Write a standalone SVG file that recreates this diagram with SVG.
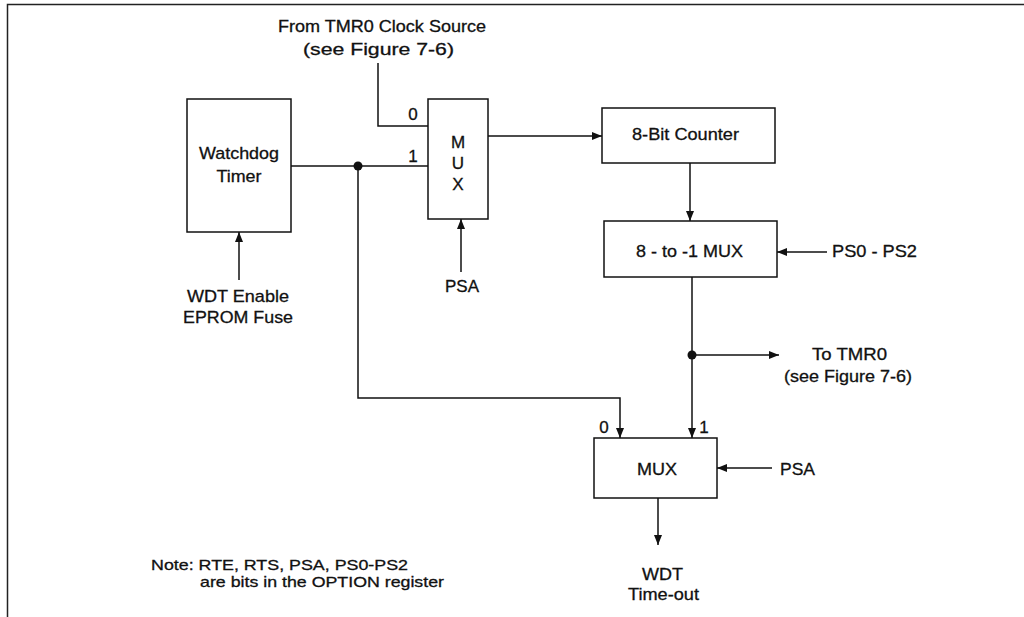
<svg xmlns="http://www.w3.org/2000/svg" width="1024" height="617" viewBox="0 0 1024 617">
<style>
  .box { fill: #fff; stroke: #111; stroke-width: 1.5; }
  .wire { fill: none; stroke: #111; stroke-width: 1.5; }
  .arr { fill: none; stroke: #111; stroke-width: 1.5; marker-end: url(#ah); }
  .dot { fill: #111; }
  text { font-family: "Liberation Sans", Arial, sans-serif; font-size: 17px; fill: #111; stroke: #111; stroke-width: 0.3; }
  .c { text-anchor: middle; }
  .note { font-size: 15px; }
  .frame { fill: none; stroke: #222; stroke-width: 1.5; }
</style>
<defs>
  <marker id="ah" markerUnits="userSpaceOnUse" markerWidth="10" markerHeight="8" refX="10" refY="4" orient="auto">
    <path d="M0,0 L10,4 L0,8 z" fill="#111"/>
  </marker>
</defs>
<rect width="1024" height="617" fill="#fff"/>
<g id="frame">
  <polyline class="frame" points="7.5,617 7.5,4.5 1024,4.5"/>
</g>

<g id="connectors">
  <polyline class="wire" points="378,63 378,126 428,126"/>
  <line class="wire" x1="291" y1="166" x2="428" y2="166"/>
  <polyline class="arr" points="358,166 358,398 620,398 620,438"/>
  <line class="arr" x1="239" y1="280" x2="239" y2="232"/>
  <line class="arr" x1="461" y1="272" x2="461" y2="219"/>
  <line class="arr" x1="488" y1="136" x2="602" y2="136"/>
  <line class="arr" x1="690" y1="163" x2="690" y2="221"/>
  <line class="arr" x1="827" y1="252" x2="777" y2="252"/>
  <line class="arr" x1="692" y1="277" x2="692" y2="438"/>
  <line class="arr" x1="692" y1="355" x2="779" y2="355"/>
  <line class="arr" x1="772" y1="468" x2="717" y2="468"/>
  <line class="arr" x1="658" y1="498" x2="658" y2="545"/>
  <circle class="dot" cx="358" cy="166" r="4.5"/>
  <circle class="dot" cx="692" cy="355" r="4.5"/>
</g>

<g id="watchdog">
  <rect class="box" x="187" y="99" width="104" height="133"/>
  <text class="c" x="239" y="159" textLength="80" lengthAdjust="spacingAndGlyphs">Watchdog</text>
  <text class="c" x="239" y="182" textLength="45" lengthAdjust="spacingAndGlyphs">Timer</text>
</g>

<g id="mux1">
  <rect class="box" x="428" y="99" width="60" height="120"/>
  <text class="c" x="458" y="148">M</text>
  <text class="c" x="458" y="169">U</text>
  <text class="c" x="458" y="190">X</text>
  <text class="c" x="413" y="120">0</text>
  <text class="c" x="413" y="162">1</text>
</g>

<g id="counter">
  <rect class="box" x="602" y="108" width="173" height="55"/>
  <text x="632" y="140" textLength="107" lengthAdjust="spacingAndGlyphs">8-Bit Counter</text>
</g>

<g id="mux8">
  <rect class="box" x="604" y="221" width="173" height="56"/>
  <text x="636" y="257" textLength="107" lengthAdjust="spacingAndGlyphs">8 - to -1 MUX</text>
</g>

<g id="mux2">
  <rect class="box" x="594" y="438" width="123" height="60"/>
  <text class="c" x="657" y="475" textLength="40" lengthAdjust="spacingAndGlyphs">MUX</text>
  <text class="c" x="604" y="433">0</text>
  <text class="c" x="704" y="433">1</text>
</g>

<g id="labels">
  <text x="278" y="32" textLength="208" lengthAdjust="spacingAndGlyphs">From TMR0 Clock Source</text>
  <text x="303" y="55" textLength="151" lengthAdjust="spacingAndGlyphs">(see Figure 7-6)</text>
  <text x="187" y="302" textLength="102" lengthAdjust="spacingAndGlyphs">WDT Enable</text>
  <text x="183" y="323" textLength="110" lengthAdjust="spacingAndGlyphs">EPROM Fuse</text>
  <text x="445" y="292" textLength="34" lengthAdjust="spacingAndGlyphs">PSA</text>
  <text x="832" y="257" textLength="85" lengthAdjust="spacingAndGlyphs">PS0 - PS2</text>
  <text x="812" y="360" textLength="75" lengthAdjust="spacingAndGlyphs">To TMR0</text>
  <text x="784" y="382" textLength="128" lengthAdjust="spacingAndGlyphs">(see Figure 7-6)</text>
  <text x="780" y="475" textLength="35" lengthAdjust="spacingAndGlyphs">PSA</text>
  <text x="642" y="580" textLength="41" lengthAdjust="spacingAndGlyphs">WDT</text>
  <text x="628" y="600" textLength="71" lengthAdjust="spacingAndGlyphs">Time-out</text>
  <text class="note" x="151" y="570" textLength="257" lengthAdjust="spacingAndGlyphs">Note: RTE, RTS, PSA, PS0-PS2</text>
  <text class="note" x="200" y="587" textLength="244" lengthAdjust="spacingAndGlyphs">are bits in the OPTION register</text>
</g>
</svg>
